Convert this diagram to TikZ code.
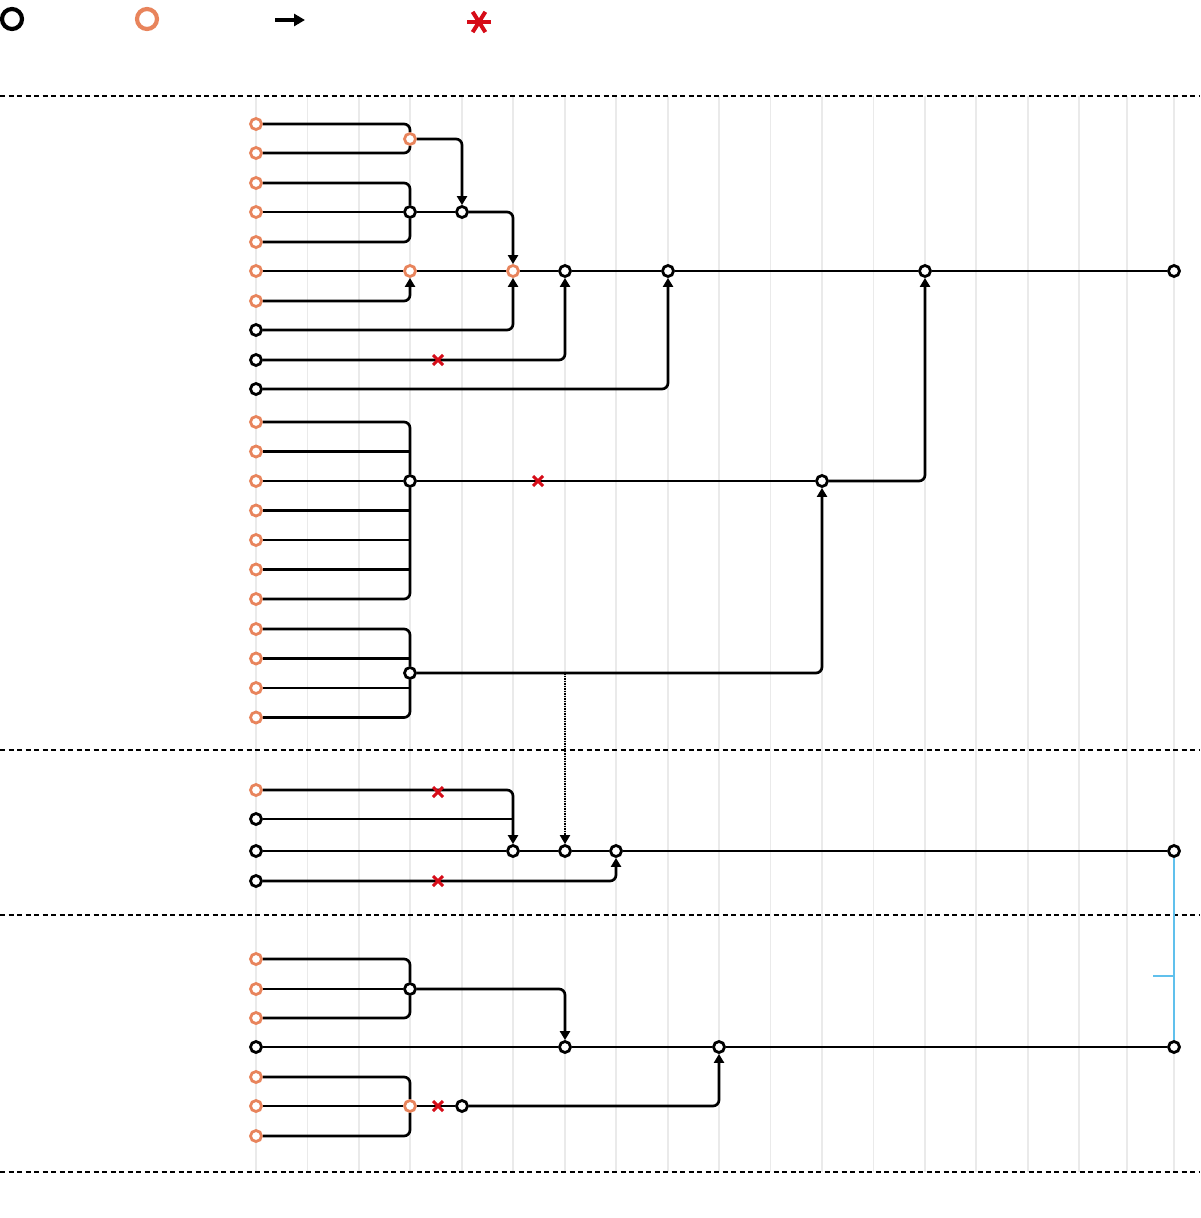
\documentclass[tikz,border=0pt]{standalone}
\usetikzlibrary{arrows.meta, shapes.misc}

\definecolor{leafc}{RGB}{232,132,92}
\definecolor{cutc}{RGB}{214,12,24}
\definecolor{gridc}{RGB}{234,234,234}
\definecolor{linkc}{RGB}{96,192,236}

\tikzset{
  hub/.style={circle, draw=black, fill=white, line width=2.8pt, minimum size=11pt, inner sep=0pt},
  leaf/.style={hub, draw=leafc},
  wire/.style={line width=2.7pt, rounded corners=6pt},
  feed/.style={wire, -{Triangle[length=9pt,width=10pt]}},
  cut/.style={cross out, draw=cutc, line width=3pt, minimum size=7pt, inner sep=0pt},
  sep/.style={line width=2pt, dash pattern=on 5pt off 3.5pt},
  gridline/.style={gridc, line width=1.8pt},
}

\begin{document}
\begin{tikzpicture}[x=1pt,y=-1pt]
\useasboundingbox (0,0) rectangle (1200,1218);
% Grid
\foreach \k in {0,...,16}
  \draw[gridline] (256+51.45*\k,96) -- (256+51.45*\k,1172);
\foreach \gx in {1127,1174}
  \draw[gridline] (\gx,96) -- (\gx,1172);
% Separators
\foreach \sy in {96,750,915,1172}
  \draw[sep] (0,\sy) -- (1200,\sy);
% Legend
\node[hub, minimum size=20pt, line width=4.2pt] (keyhub) at (12,19) {};
\node[leaf, minimum size=20pt, line width=4.2pt] (keyleaf) at (147,19) {};
\coordinate (keyfrom) at (275,20);
\coordinate (keyto) at (305,20);
\draw[line width=3.2pt, -{Triangle[length=11pt,width=12pt]}] (keyfrom) -- (keyto);
\foreach \a in {0,58,122}
  \draw[cutc, line width=4pt] (479,22) ++(\a:12) -- ++(\a+180:24);

% First block: inputs
\foreach \n/\y/\s in {1/124/leaf,2/153/leaf,3/183/leaf,4/212/leaf,5/242/leaf,6/271/leaf,7/301/leaf,
  8/330/hub,9/360/hub,10/389/hub,11/422/leaf,12/451.5/leaf,13/481/leaf,14/510.5/leaf,15/540/leaf,
  16/569.5/leaf,17/599/leaf,18/629/leaf,19/658.5/leaf,20/688/leaf,21/717.5/leaf}
  \node[\s] (a\n) at (256,\y) {};
% First block: merges
\node[leaf] (p1) at (410,139) {};
\node[hub] (p2) at (410,212) {};
\node[hub] (p3) at (462,212) {};
\node[leaf] (p4) at (410,271) {};
\node[leaf] (p5) at (513,271) {};
\node[hub] (p6) at (565,271) {};
\node[hub] (p7) at (668,271) {};
\node[hub] (p8) at (925,271) {};
\node[hub] (p9) at (1174,271) {};
\node[hub] (p10) at (410,481) {};
\node[hub] (p11) at (822,481) {};
\node[hub] (p12) at (410,673) {};

% Second block
\foreach \n/\y/\s in {1/790/leaf,2/819/hub,3/851/hub,4/881/hub}
  \node[\s] (b\n) at (256,\y) {};
\node[hub] (q1) at (513,851) {};
\node[hub] (q2) at (565,851) {};
\node[hub] (q3) at (616,851) {};
\node[hub] (q4) at (1174,851) {};

% Third block
\foreach \n/\y/\s in {1/959/leaf,2/989/leaf,3/1018/leaf,4/1047/hub,5/1077/leaf,6/1106/leaf,7/1136/leaf}
  \node[\s] (c\n) at (256,\y) {};
\node[hub] (r1) at (410,989) {};
\node[hub] (r2) at (565,1047) {};
\node[hub] (r3) at (719,1047) {};
\node[hub] (r4) at (1174,1047) {};
\node[leaf] (r5) at (410,1106) {};
\node[hub] (r6) at (462,1106) {};

% Wires, first block
\draw[wire] (a1) -| (p1);
\draw[wire] (a2) -| (p1);
\draw[feed] (p1) -| (p3);
\draw[wire] (a3) -| (p2);
\draw[wire] (a5) -| (p2);
\draw[wire] (a4) -- (p2) -- (p3);
\draw[feed] (p3) -| (p5);
\draw[wire] (a6) -- (p4) -- (p5) -- (p6) -- (p7) -- (p8) -- (p9);
\draw[feed] (a7) -| (p4);
\draw[feed] (a8) -| (p5);
\draw[feed] (a9) -| (p6);
\draw[feed] (a10) -| (p7);
\draw[wire] (a11) -| (p10);
\draw[wire] (a17) -| (p10);
\foreach \n in {12,14,15,16}
  \draw[wire] (a\n) -- (a\n -| p10);
\draw[wire] (a13) -- (p10) -- (p11);
\draw[feed] (p11) -| (p8);
\draw[wire] (a18) -| (p12);
\draw[wire] (a21) -| (p12);
\draw[wire] (a19) -- (a19 -| p12);
\draw[wire] (a20) -- (a20 -| p12);
\draw[feed] (p12) -| (p11);
\coordinate (drop) at (p12 -| q2);
\draw[line width=2pt, dash pattern=on 1.6pt off 0.9pt, -{Triangle[length=9pt,width=10pt]}] (drop) -- (q2);

% Wires, second block
\draw[feed] (b1) -| (q1);
\draw[wire] (b2) -- (b2 -| q1);
\draw[wire] (b3) -- (q1) -- (q2) -- (q3) -- (q4);
\draw[feed] (b4) -| (q3);

% Wires, third block
\draw[wire] (c1) -| (r1);
\draw[wire] (c3) -| (r1);
\draw[wire] (c2) -- (r1);
\draw[feed] (r1) -| (r2);
\draw[wire] (c4) -- (r2) -- (r3) -- (r4);
\draw[wire] (c5) -| (r5);
\draw[wire] (c7) -| (r5);
\draw[wire] (c6) -- (r5) -- (r6);
\draw[feed] (r6) -| (r3);

% Cut marks
\node[cut] (x1) at (438,360) {};
\node[cut] (x2) at (538,481) {};
\node[cut] (x3) at (438,792) {};
\node[cut] (x4) at (438,881) {};
\node[cut] (x5) at (438,1106) {};

% Link between the two outputs
\draw[linkc, line width=1.8pt] (q4) -- (r4);
\coordinate (tick) at (1153,976);
\draw[linkc, line width=1.8pt] (tick) -- (tick -| q4);
\end{tikzpicture}
\end{document}
